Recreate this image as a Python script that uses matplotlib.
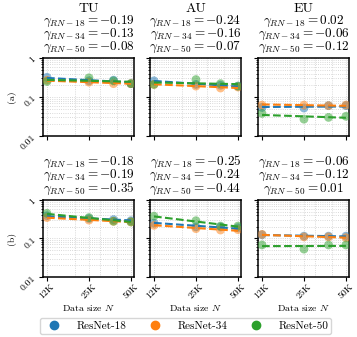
import numpy as np
import matplotlib
matplotlib.use("Agg")
import matplotlib.pyplot as plt
from matplotlib.ticker import NullFormatter, FixedLocator, FixedFormatter, LogLocator
from matplotlib.lines import Line2D

plt.rcParams['font.family'] = 'serif'
plt.rcParams['font.serif'] = ['cmr10', 'DejaVu Serif']
plt.rcParams['mathtext.fontset'] = 'cm'
plt.rcParams['axes.unicode_minus'] = False
plt.rcParams['axes.formatter.use_mathtext'] = True

# ---------------- data ----------------
data_sizes = [12500, 25000, 37500, 50000]
xtick_vals = [12500, 25000, 50000]
xtick_labels = ['12K', '25K', '50K']
models = ['ResNet-18', 'ResNet-34', 'ResNet-50']
model_keys = ['RN-18', 'RN-34', 'RN-50']
colors = ['#1f77b4', '#ff7f0e', '#2ca02c']
columns = ['TU', 'AU', 'EU']
rows = ['(a)', '(b)']

# row (a)
a_TU_rn18 = [0.32, 0.26, 0.27, 0.22]
a_TU_rn34 = [0.27, 0.24, 0.22, 0.22]
a_TU_rn50 = [0.25, 0.31, 0.26, 0.22]
a_AU_rn18 = [0.26, 0.21, 0.20, 0.19]
a_AU_rn34 = [0.21, 0.19, 0.17, 0.18]
a_AU_rn50 = [0.21, 0.28, 0.22, 0.19]
a_EU_rn18 = [0.054, 0.052, 0.060, 0.060]
a_EU_rn34 = [0.062, 0.062, 0.060, 0.062]
a_EU_rn50 = [0.038, 0.027, 0.030, 0.032]
# row (b)
b_TU_rn18 = [0.39, 0.33, 0.31, 0.29]
b_TU_rn34 = [0.35, 0.30, 0.28, 0.27]
b_TU_rn50 = [0.45, 0.35, 0.28, 0.27]
b_AU_rn18 = [0.25, 0.20, 0.20, 0.19]
b_AU_rn34 = [0.22, 0.18, 0.166, 0.17]
b_AU_rn50 = [0.38, 0.29, 0.21, 0.21]
b_EU_rn18 = [0.125, 0.115, 0.115, 0.115]
b_EU_rn34 = [0.128, 0.110, 0.110, 0.105]
b_EU_rn50 = [0.068, 0.053, 0.068, 0.068]

# exponents shown above each panel
gamma_a_TU = [-0.19, -0.13, -0.08]
gamma_a_AU = [-0.24, -0.16, -0.07]
gamma_a_EU = [0.02, -0.06, -0.12]
gamma_b_TU = [-0.18, -0.19, -0.35]
gamma_b_AU = [-0.25, -0.24, -0.44]
gamma_b_EU = [-0.06, -0.12, 0.01]

panel_values = [
    [[a_TU_rn18, a_TU_rn34, a_TU_rn50], [a_AU_rn18, a_AU_rn34, a_AU_rn50], [a_EU_rn18, a_EU_rn34, a_EU_rn50]],
    [[b_TU_rn18, b_TU_rn34, b_TU_rn50], [b_AU_rn18, b_AU_rn34, b_AU_rn50], [b_EU_rn18, b_EU_rn34, b_EU_rn50]],
]
panel_gammas = [
    [gamma_a_TU, gamma_a_AU, gamma_a_EU],
    [gamma_b_TU, gamma_b_AU, gamma_b_EU],
]

# ---------------- layout ----------------
W, H = 357, 337
fig = plt.figure(figsize=(W / 100, H / 100), dpi=100)
col_left = [43, 150, 258]
ax_w = 91
row_top = [58, 200]
ax_h = [78, 77]

N = np.array(data_sizes, dtype=float)
for r in range(2):
    for c in range(3):
        left = col_left[c] / W
        bottom = 1 - (row_top[r] + ax_h[r]) / H
        ax = fig.add_axes([left, bottom, ax_w / W, ax_h[r] / H])
        ax.set_xscale('log')
        ax.set_yscale('log')
        ax.set_xlim(11700, 52600)
        ax.set_ylim(0.01, 1)
        for m in range(3):
            y = np.array(panel_values[r][c][m])
            g = panel_gammas[r][c][m]
            ax.scatter(N, y, s=40, color=colors[m], alpha=0.5, edgecolors='none', zorder=3)
            logc = np.mean(np.log(y) - g * np.log(N))
            ax.plot(N, np.exp(logc) * N ** g, '--', color=colors[m], lw=1.5, zorder=4)
        ax.xaxis.set_major_locator(FixedLocator(xtick_vals))
        ax.xaxis.set_major_formatter(FixedFormatter(xtick_labels if r == 1 else ['', '', '']))
        ax.xaxis.set_minor_locator(LogLocator(base=10, subs=np.arange(1, 10)))
        ax.xaxis.set_minor_formatter(NullFormatter())
        ax.yaxis.set_major_locator(FixedLocator([0.01, 0.1, 1]))
        ax.yaxis.set_major_formatter(FixedFormatter(['0.01', '0.1', '1'] if c == 0 else ['', '', '']))
        ax.yaxis.set_minor_locator(LogLocator(base=10, subs=np.arange(2, 10)))
        ax.yaxis.set_minor_formatter(NullFormatter())
        ax.tick_params(axis='both', which='major', labelsize=7, length=3, width=0.8, pad=1)
        ax.tick_params(axis='y', which='minor', length=1.8, width=0.6)
        ax.tick_params(axis='x', which='minor', length=0)
        for lab in ax.get_xticklabels() + ax.get_yticklabels():
            lab.set_rotation(45)
        ax.grid(True, which='both', color='#cccccc', linestyle=':', linewidth=0.6)
        for sp in ax.spines.values():
            sp.set_linewidth(1.1)
        if r == 1:
            ax.set_xlabel('Data size $N$', fontsize=7, labelpad=2)
        if c == 0:
            ax.set_ylabel(rows[r], fontsize=7, labelpad=2)
        xc = (col_left[c] + ax_w / 2) / W
        if r == 0:
            fig.text(xc, 1 - 9 / H, columns[c], ha='center', va='center', fontsize=10)
            ys = [21, 34, 47]
        else:
            ys = [162, 175, 189]
        for m in range(3):
            g = panel_gammas[r][c][m]
            fig.text(xc, 1 - ys[m] / H,
                     r'$\gamma_{%s} = %.2f$' % (model_keys[m], g),
                     ha='center', va='center', fontsize=9.5)

handles = [Line2D([], [], marker='o', linestyle='none', color=colors[m], markersize=6)
           for m in range(3)]
fig.legend(handles, models, loc='center', bbox_to_anchor=((43 + 328) / 2 / W, 1 - 326 / H),
           ncol=3, fontsize=8, frameon=True, columnspacing=1.6, handletextpad=1.0,
           borderpad=0.3, fancybox=True, edgecolor='#cccccc')

fig.savefig('out.png', dpi=100)
